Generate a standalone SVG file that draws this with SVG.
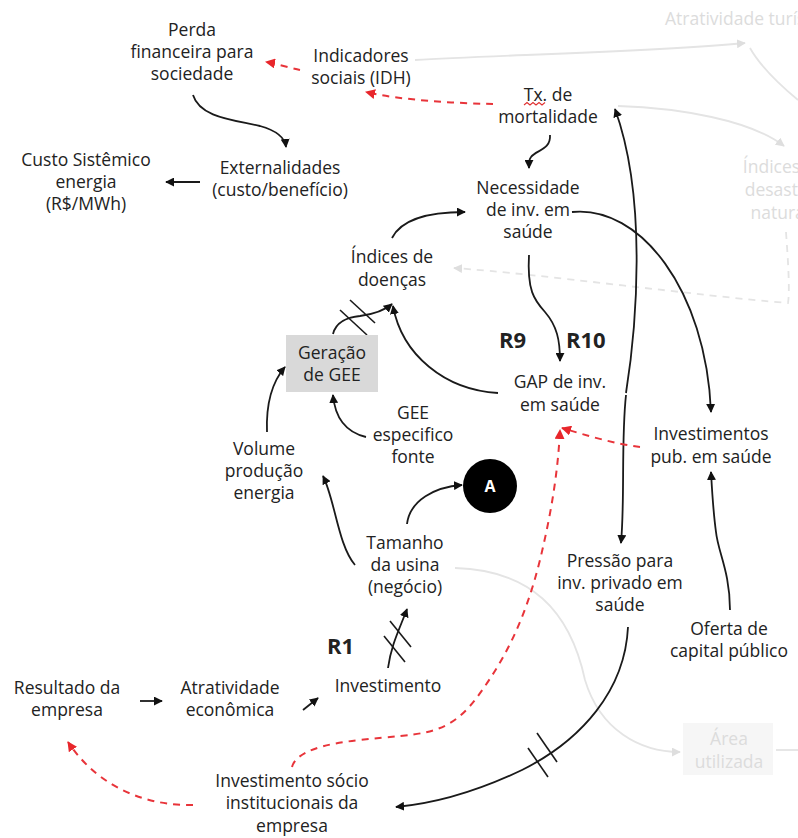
<svg xmlns="http://www.w3.org/2000/svg" width="798" height="838" viewBox="0 0 798 838">
  <defs>
    <style>
      .t { font-family: "Open Sans", "Liberation Sans", sans-serif; font-size: 17.5px; fill: #222; text-anchor: middle; }
      .tf { font-family: "Open Sans", "Liberation Sans", sans-serif; font-size: 17.5px; fill: #dcdcdc; text-anchor: middle; }
      .loop { font-family: "Open Sans", "Liberation Sans", sans-serif; font-size: 22px; font-weight: bold; fill: #222; }
      .c { fill: none; stroke: #1a1a1a; stroke-width: 1.8; marker-end: url(#ah); }
      .cr { fill: none; stroke: #e8343a; stroke-width: 2; stroke-dasharray: 7 6; marker-end: url(#ahr); }
      .cf { fill: none; stroke: #e4e4e4; stroke-width: 1.8; }
      .delay { stroke: #1a1a1a; stroke-width: 1.6; }
    </style>
    <marker id="ah" viewBox="0 0 10 10" refX="9" refY="5" markerWidth="9" markerHeight="9" markerUnits="userSpaceOnUse" orient="auto">
      <path d="M0,0 L10,5 L0,10 z" fill="#111"/>
    </marker>
    <marker id="ahr" viewBox="0 0 10 10" refX="9" refY="5" markerWidth="10" markerHeight="10" markerUnits="userSpaceOnUse" orient="auto">
      <path d="M0,0 L10,5 L0,10 z" fill="#e8262b"/>
    </marker>
    <marker id="ahf" viewBox="0 0 10 10" refX="9" refY="5" markerWidth="9" markerHeight="9" markerUnits="userSpaceOnUse" orient="auto">
      <path d="M0,0 L10,5 L0,10 z" fill="#dedede"/>
    </marker>
  </defs>

  <rect width="798" height="838" fill="#ffffff"/>

  <!-- faded background links -->
  <g id="faded-links">
    <path class="cf" d="M415,60 C500,55 650,52 745,43" marker-end="url(#ahf)"/>
    <path class="cf" d="M798,100 C780,85 760,66 750,48"/>
    <path class="cf" d="M618,106 C680,108 750,120 784,146" marker-end="url(#ahf)"/>
    <path class="cf" d="M786,232 C788,260 790,290 788,303 C700,296 540,274 454,268" stroke-dasharray="7 6" stroke="#eadada" marker-end="url(#ahf)"/>
    <path class="cf" d="M455,568 C530,570 570,610 585,680 C600,730 640,752 680,752" marker-end="url(#ahf)"/>
    <path class="cf" d="M776,750 L798,750" stroke="#f0d6d6"/>
  </g>

  <!-- faded background nodes -->
  <g id="n-atratividade-tur">
    <text class="tf" x="665" y="25" style="text-anchor:start">Atratividade turística</text>
  </g>
  <g id="n-desastres">
    <text class="tf"><tspan x="784" y="173">Índices de</tspan><tspan x="784" y="196">desastres</tspan><tspan x="784" y="219">naturais</tspan></text>
  </g>
  <g id="n-area">
    <rect x="683" y="723" width="90" height="52" fill="#f6f6f6"/>
    <text class="tf"><tspan x="729" y="745">Área</tspan><tspan x="729" y="768">utilizada</tspan></text>
  </g>

  <!-- connectors -->
  <g id="connectors">
    <path class="c" d="M193,95 C200,118 235,120 260,126 C278,131 285,138 286,147"/>
    <path class="c" d="M200,182 L166,182"/>
    <path class="c" d="M550,135 C551,150 536,150 531,157 C528,161 529,165 529,168"/>
    <path class="c" d="M392,238 C402,218 432,212 465,212"/>
    <path class="c" d="M333,334 C336,322 348,317 360,316 C375,314 385,310 392,304"/>
    <path class="c" d="M498,393 C445,390 402,355 393,306"/>
    <path class="c" d="M529,255 C527,290 534,300 545,312 C557,326 560,340 560,361"/>
    <path class="c" d="M572,212 C640,205 706,290 711,412"/>
    <path class="c" d="M626,393 C636,330 648,200 615,109"/>
    <path class="c" d="M626,395 C621,440 625,500 621,543"/>
    <path class="c" d="M730,610 C730,572 718,552 716,532 C713,510 712,490 711,472"/>
    <path class="c" d="M628,627 C625,690 582,740 522,770 C480,790 440,803 396,807"/>
    <path class="c" d="M267,432 C266,405 272,382 285,367"/>
    <path class="c" d="M366,437 C345,432 335,418 333,395"/>
    <path class="c" d="M355,565 C338,545 335,500 323,476"/>
    <path class="c" d="M407,524 C410,500 435,487 462,485"/>
    <path class="c" d="M388,668 C391,645 400,628 407,609"/>
    <path class="c" d="M140,701 L162,701"/>
    <path class="c" d="M303,710 L318,698"/>

    <!-- delay marks -->
    <line class="delay" x1="350" y1="300" x2="375" y2="323"/>
    <line class="delay" x1="340" y1="310" x2="367" y2="335"/>
    <line class="delay" x1="390" y1="621" x2="411" y2="647"/>
    <line class="delay" x1="384" y1="636" x2="405" y2="662"/>
    <line class="delay" x1="528" y1="748" x2="548" y2="777"/>
    <line class="delay" x1="537" y1="733" x2="557" y2="762"/>

    <!-- negative (dashed) links -->
    <path class="cr" d="M300,70 C290,68 278,64 266,62"/>
    <path class="cr" d="M493,104 C450,103 400,100 366,92"/>
    <path class="cr" d="M640,447 C615,444 585,435 562,428"/>
    <path class="cr" d="M292,767 C296,752 322,744 360,740 C420,733 445,738 475,700 C505,660 525,620 540,560 C552,510 558,470 560,430"/>
    <path class="cr" d="M193,805 C150,806 100,790 68,742"/>
  </g>

  <!-- nodes -->
  <g id="n-perda">
    <text class="t"><tspan x="192" y="36">Perda</tspan><tspan x="192" y="58">financeira para</tspan><tspan x="192" y="80">sociedade</tspan></text>
  </g>
  <g id="n-indicadores">
    <text class="t"><tspan x="361" y="62">Indicadores</tspan><tspan x="361" y="84">sociais (IDH)</tspan></text>
  </g>
  <g id="n-externalidades">
    <text class="t"><tspan x="280" y="174">Externalidades</tspan><tspan x="280" y="196">(custo/benefício)</tspan></text>
  </g>
  <g id="n-custo">
    <text class="t"><tspan x="86" y="166">Custo Sistêmico</tspan><tspan x="86" y="188">energia</tspan><tspan x="86" y="210">(R$/MWh)</tspan></text>
  </g>
  <g id="n-tx">
    <text class="t"><tspan x="548" y="101">Tx. de</tspan><tspan x="548" y="123">mortalidade</tspan></text>
    <path d="M524,105 l3,-2.5 l3,2.5 l3,-2.5 l3,2.5 l3,-2.5 l3,2.5 l3,-2.5" fill="none" stroke="#e03030" stroke-width="1.1"/>
  </g>
  <g id="n-necessidade">
    <text class="t"><tspan x="528" y="194">Necessidade</tspan><tspan x="528" y="216">de inv. em</tspan><tspan x="528" y="238">saúde</tspan></text>
  </g>
  <g id="n-indices">
    <text class="t"><tspan x="392" y="263">Índices de</tspan><tspan x="392" y="286">doenças</tspan></text>
  </g>
  <g id="n-geracao">
    <rect x="286" y="335" width="92" height="57" fill="#d9d9d9"/>
    <text class="t"><tspan x="332" y="359">Geração</tspan><tspan x="332" y="381">de GEE</tspan></text>
  </g>
  <g id="n-volume">
    <text class="t"><tspan x="264" y="455">Volume</tspan><tspan x="264" y="477">produção</tspan><tspan x="264" y="499">energia</tspan></text>
  </g>
  <g id="n-gee">
    <text class="t"><tspan x="413" y="419">GEE</tspan><tspan x="413" y="441">especifico</tspan><tspan x="413" y="463">fonte</tspan></text>
  </g>
  <g id="n-gap">
    <text class="t"><tspan x="560" y="388">GAP de inv.</tspan><tspan x="560" y="411">em saúde</tspan></text>
  </g>
  <g id="n-invpub">
    <text class="t"><tspan x="711" y="440">Investimentos</tspan><tspan x="711" y="463">pub. em saúde</tspan></text>
  </g>
  <g id="n-A">
    <circle cx="490" cy="486" r="27" fill="#000"/>
    <text x="490" y="492" style="font-family:'Open Sans','Liberation Sans',sans-serif;font-size:16px;font-weight:bold;fill:#fff;text-anchor:middle">A</text>
  </g>
  <g id="n-tamanho">
    <text class="t"><tspan x="405" y="549">Tamanho</tspan><tspan x="405" y="571">da usina</tspan><tspan x="405" y="593">(negócio)</tspan></text>
  </g>
  <g id="n-pressao">
    <text class="t"><tspan x="620" y="567">Pressão para</tspan><tspan x="620" y="589">inv. privado em</tspan><tspan x="620" y="611">saúde</tspan></text>
  </g>
  <g id="n-oferta">
    <text class="t"><tspan x="729" y="635">Oferta de</tspan><tspan x="729" y="657">capital público</tspan></text>
  </g>
  <g id="n-resultado">
    <text class="t"><tspan x="67" y="694">Resultado da</tspan><tspan x="67" y="716">empresa</tspan></text>
  </g>
  <g id="n-atratividade">
    <text class="t"><tspan x="230" y="694">Atratividade</tspan><tspan x="230" y="716">econômica</tspan></text>
  </g>
  <g id="n-investimento">
    <text class="t" x="388" y="692">Investimento</text>
  </g>
  <g id="n-socio">
    <text class="t"><tspan x="292" y="787">Investimento sócio</tspan><tspan x="292" y="809">institucionais da</tspan><tspan x="292" y="832">empresa</tspan></text>
  </g>

  <!-- loop labels -->
  <g id="loop-labels">
    <text class="loop" x="499" y="348">R9</text>
    <text class="loop" x="566" y="348">R10</text>
    <text class="loop" x="327" y="654">R1</text>
  </g>
</svg>
